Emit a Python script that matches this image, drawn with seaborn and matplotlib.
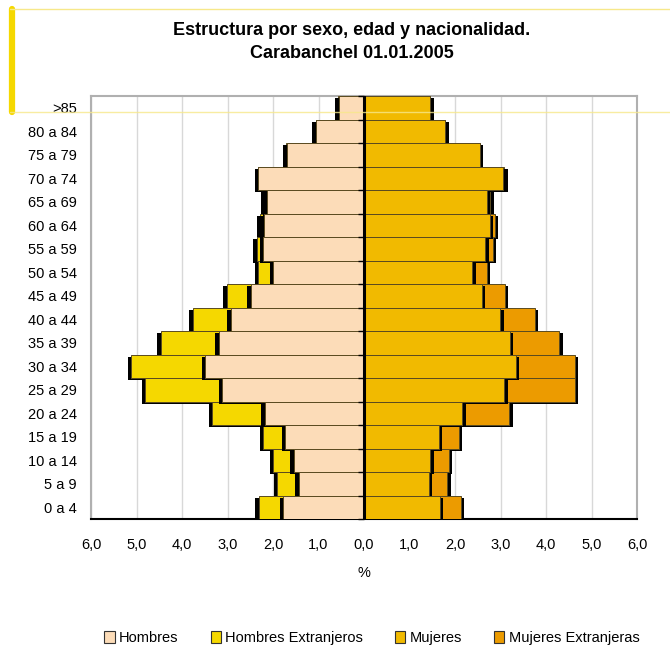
import numpy as np
import pandas as pd
import seaborn as sns
import matplotlib.pyplot as plt
import matplotlib.patheffects as pe
from matplotlib.patches import Patch
from matplotlib.lines import Line2D

sns.set_theme(style='white')
plt.rcParams['font.family'] = ['Liberation Sans', 'DejaVu Sans']
plt.rcParams['text.color'] = 'black'
plt.rcParams['xtick.color'] = 'black'
plt.rcParams['ytick.color'] = 'black'
plt.rcParams['axes.labelcolor'] = 'black'

# age groups, top to bottom
edades = ['>85', '80 a 84', '75 a 79', '70 a 74', '65 a 69', '60 a 64', '55 a 59',
          '50 a 54', '45 a 49', '40 a 44', '35 a 39', '30 a 34', '25 a 29',
          '20 a 24', '15 a 19', '10 a 14', '5 a 9', '0 a 4']
hombres = [0.55, 1.05, 1.70, 2.32, 2.14, 2.20, 2.21, 2.00, 2.49, 2.93, 3.19, 3.49, 3.11,
           2.18, 1.73, 1.54, 1.43, 1.78]
hombres_ext = [0.02, 0.01, 0.01, 0.01, 0.05, 0.08, 0.15, 0.32, 0.53, 0.83, 1.28, 1.63, 1.70,
               1.15, 0.48, 0.46, 0.48, 0.53]
mujeres = [1.44, 1.78, 2.54, 3.06, 2.70, 2.76, 2.67, 2.38, 2.59, 2.99, 3.20, 3.33, 3.08,
           2.16, 1.64, 1.46, 1.42, 1.67]
mujeres_ext = [0.02, 0.01, 0.01, 0.02, 0.07, 0.11, 0.16, 0.32, 0.50, 0.76, 1.09, 1.30, 1.55,
               1.03, 0.44, 0.40, 0.41, 0.46]

df = pd.DataFrame({'edad': edades, 'h': hombres, 'he': hombres_ext,
                   'm': mujeres, 'me': mujeres_ext})
df['h_tot'] = -(df['h'] + df['he'])
df['h_neg'] = -df['h']
df['m_tot'] = df['m'] + df['me']

c_h = '#fcdcb8'
c_he = '#f5d800'
c_m = '#f1ba00'
c_me = '#ec9b00'

fig = plt.figure(figsize=(6.70, 6.47), dpi=100)
ax = fig.add_axes([91 / 670, 1 - 519 / 647, 546 / 670, 423 / 647])


def bars(col, color, dx):
    n0 = len(ax.patches)
    sns.barplot(data=df, x=col, y='edad', orient='h', color=color, saturation=1,
                width=1, edgecolor='#5a4a20', linewidth=0.7, ax=ax, zorder=3)
    for p in ax.patches[n0:]:
        p.set_path_effects([pe.SimplePatchShadow(offset=(dx, -1.5), shadow_rgbFace='black',
                                                 alpha=1), pe.Normal()])


bars('h_tot', c_he, -2.5)
bars('h_neg', c_h, -2.5)
bars('m_tot', c_me, 2.5)
bars('m', c_m, 2.5)

ax.set_xlim(-6, 6)
ax.set_ylim(len(edades) - 0.5, -0.5)
ticks = np.arange(-6, 7, 1)
ax.set_xticks(ticks)
ax.set_xticklabels([f'{abs(t):.1f}'.replace('.', ',') for t in ticks], fontsize=10.5)
ax.tick_params(axis='x', direction='out', length=4, width=1.2, color='black', pad=10)
ax.tick_params(axis='y', length=0, pad=10, labelsize=10.5)
ax.set_ylabel('')
ax.set_xlabel('%', fontsize=10.5, labelpad=10)
ax.xaxis.grid(True, color='#d8d8d8', lw=1, zorder=0)
ax.set_axisbelow(True)

for s in ['left', 'top', 'right']:
    ax.spines[s].set_color('#b0b0b0')
    ax.spines[s].set_linewidth(1.5)
ax.spines['bottom'].set_color('black')
ax.spines['bottom'].set_linewidth(1.5)

# central axis with category ticks
ax.axvline(0, color='black', lw=2.2, zorder=5)
bounds = np.arange(len(edades) + 1) - 0.5
ax.plot(np.zeros(len(bounds)), bounds, linestyle='none', marker=0, markersize=4,
        markeredgewidth=1, color='black', zorder=5, clip_on=False)

fig.text(352 / 670, 1 - 42 / 647, 'Estructura por sexo, edad y nacionalidad.\nCarabanchel 01.01.2005',
         ha='center', va='center', fontsize=13, fontweight='bold', linespacing=1.45,
         color='black')

handles = [Patch(facecolor=c, edgecolor='#333333', lw=0.8) for c in [c_h, c_he, c_m, c_me]]
fig.legend(handles, ['Hombres', 'Hombres Extranjeros', 'Mujeres', 'Mujeres Extranjeras'],
           loc='center', bbox_to_anchor=(372 / 670, 1 - 638 / 647), ncol=4, frameon=False,
           fontsize=10.5, handlelength=0.7, handleheight=0.9, handletextpad=0.3,
           columnspacing=2.2)

# chart-area border remnants
fig.add_artist(Line2D([12.5 / 670, 12.5 / 670], [1 - 9 / 647, 1 - 112 / 647],
                      transform=fig.transFigure, color='#f5d800', lw=4.5))
fig.add_artist(Line2D([10 / 670, 1], [1 - 9 / 647, 1 - 9 / 647],
                      transform=fig.transFigure, color='#f7e88a', lw=1))
fig.add_artist(Line2D([10 / 670, 1], [1 - 112 / 647, 1 - 112 / 647],
                      transform=fig.transFigure, color='#f7e88a', lw=1, alpha=0.8))

fig.savefig('out.png', dpi=100)
